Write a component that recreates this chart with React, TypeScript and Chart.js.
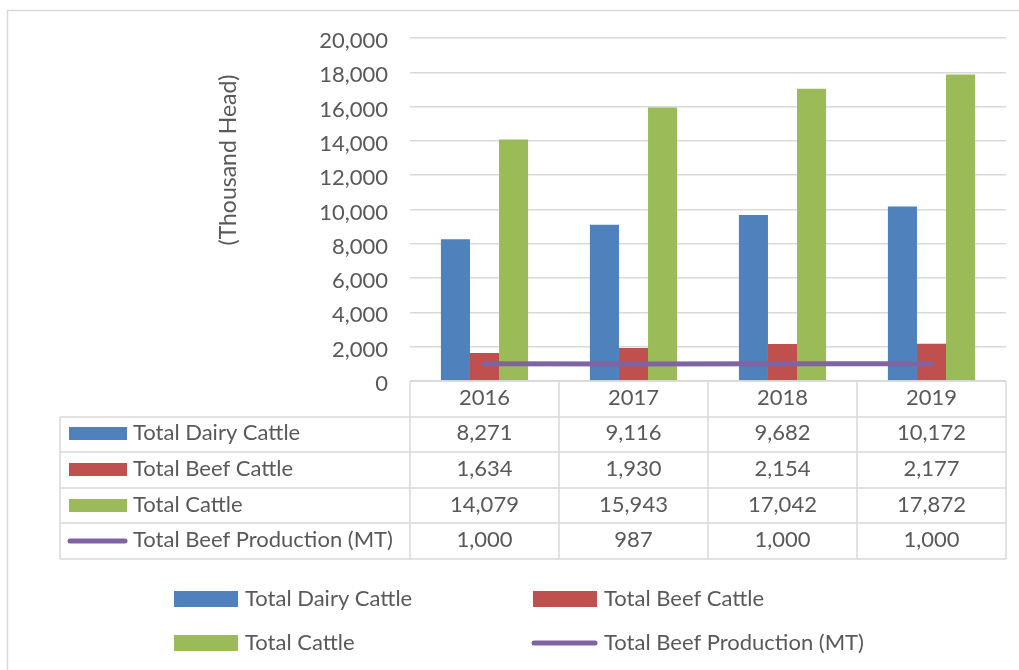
import React, { useEffect, useRef } from "react";
import { Chart, registerables } from "chart.js";

Chart.register(...registerables);

// Chart data
const years = ["2016", "2017", "2018", "2019"];
const dairyCattle = [8271, 9116, 9682, 10172];
const beefCattle = [1634, 1930, 2154, 2177];
const totalCattle = [14079, 15943, 17042, 17872];
const beefProduction = [1000, 987, 1000, 1000];
const seriesNames = [
  "Total Dairy Cattle",
  "Total Beef Cattle",
  "Total Cattle",
  "Total Beef Production (MT)",
];
const yTitle = "(Thousand Head)";

const BLUE = "#4F81BD";
const RED = "#C0504D";
const GREEN = "#9BBB59";
const PURPLE = "#8064A2";
const TEXT = "#595959";
const LINE = "#d9d9d9";
const FONT_FAMILY = "Lato, 'Noto Sans', sans-serif";
const FONT_SIZE = 22;

const fmt = (v: number) => v.toLocaleString("en-US");

// Draws the data table under the plot, the axis title, the legend and the frame
const tablePlugin = {
  id: "dataTable",
  afterDraw(chart: any) {
    const ctx = chart.ctx as CanvasRenderingContext2D;
    const area = chart.chartArea;
    const x = chart.scales.x;
    const rowH = 35.6;
    const tableLeft = 60;
    const top = area.bottom;
    const n = years.length;
    const colW = (area.right - area.left) / n;
    const colors = [BLUE, RED, GREEN, PURPLE];
    const rows = [dairyCattle, beefCattle, totalCattle, beefProduction];

    ctx.save();
    ctx.font = `${FONT_SIZE}px ${FONT_FAMILY}`;
    ctx.fillStyle = TEXT;
    ctx.textBaseline = "middle";

    // outer frame
    ctx.strokeStyle = LINE;
    ctx.lineWidth = 1.5;
    ctx.beginPath();
    ctx.moveTo(7.5, chart.height);
    ctx.lineTo(7.5, 10.5);
    ctx.lineTo(chart.width, 10.5);
    ctx.stroke();

    // table grid
    ctx.beginPath();
    ctx.moveTo(area.left, top);
    ctx.lineTo(area.right, top);
    for (let r = 1; r <= rows.length + 1; r++) {
      const yy = Math.round(top + r * rowH);
      ctx.moveTo(tableLeft, yy);
      ctx.lineTo(area.right, yy);
    }
    const bottom = Math.round(top + (rows.length + 1) * rowH);
    ctx.moveTo(tableLeft, Math.round(top + rowH));
    ctx.lineTo(tableLeft, bottom);
    for (let c = 0; c <= n; c++) {
      const xx = area.left + c * colW;
      ctx.moveTo(xx, top);
      ctx.lineTo(xx, bottom);
    }
    ctx.stroke();

    // header labels
    ctx.textAlign = "center";
    years.forEach((yr, i) => {
      ctx.fillText(yr, x.getPixelForValue(i), top + rowH / 2 - 1);
    });

    // value rows
    rows.forEach((vals, r) => {
      const cy = top + (r + 1) * rowH + rowH / 2 - 1;
      ctx.textAlign = "center";
      vals.forEach((v, i) => {
        ctx.fillText(fmt(v), x.getPixelForValue(i), cy);
      });
      // key
      const ky = Math.round(top + (r + 1) * rowH + rowH / 2);
      if (r < 3) {
        ctx.fillStyle = colors[r];
        ctx.fillRect(69, ky - 7, 58, 13);
      } else {
        ctx.strokeStyle = colors[r];
        ctx.lineWidth = 5;
        ctx.lineCap = "round";
        ctx.beginPath();
        ctx.moveTo(70, ky);
        ctx.lineTo(125, ky);
        ctx.stroke();
      }
      ctx.fillStyle = TEXT;
      ctx.textAlign = "left";
      ctx.fillText(seriesNames[r], 133, cy);
    });

    // bottom legend
    const legend = [
      { x: 174, y: 599, i: 0 },
      { x: 533, y: 599, i: 1 },
      { x: 174, y: 643, i: 2 },
      { x: 533, y: 643, i: 3 },
    ];
    legend.forEach((it) => {
      if (it.i < 3) {
        ctx.fillStyle = colors[it.i];
        ctx.fillRect(it.x, it.y - 8, 64, 16);
      } else {
        ctx.strokeStyle = colors[it.i];
        ctx.lineWidth = 5;
        ctx.lineCap = "round";
        ctx.beginPath();
        ctx.moveTo(it.x + 1, it.y);
        ctx.lineTo(it.x + 62, it.y);
        ctx.stroke();
      }
      ctx.fillStyle = TEXT;
      ctx.textAlign = "left";
      ctx.fillText(seriesNames[it.i], it.x + 71, it.y);
    });

    // rotated axis title
    ctx.save();
    ctx.font = `23px ${FONT_FAMILY}`;
    ctx.translate(229, 160);
    ctx.rotate(-Math.PI / 2);
    ctx.textAlign = "center";
    ctx.fillText(yTitle, 0, 0);
    ctx.restore();

    ctx.restore();
  },
};

export default function App() {
  const ref = useRef<HTMLCanvasElement | null>(null);

  useEffect(() => {
    if (!ref.current) return;
    const chart = new Chart(ref.current, {
      data: {
        labels: years,
        datasets: [
          {
            type: "line",
            label: seriesNames[3],
            data: beefProduction,
            borderColor: PURPLE,
            borderWidth: 5,
            borderCapStyle: "round",
            pointRadius: 0,
            order: 0,
          },
          {
            type: "bar",
            label: seriesNames[0],
            data: dairyCattle,
            backgroundColor: BLUE,
            order: 1,
          },
          {
            type: "bar",
            label: seriesNames[1],
            data: beefCattle,
            backgroundColor: RED,
            order: 1,
          },
          {
            type: "bar",
            label: seriesNames[2],
            data: totalCattle,
            backgroundColor: GREEN,
            order: 1,
          },
        ],
      } as any,
      options: {
        animation: false,
        responsive: false,
        maintainAspectRatio: false,
        datasets: {
          bar: { categoryPercentage: 0.585, barPercentage: 1 },
        } as any,
        layout: { padding: { top: 38, right: 13, bottom: 0, left: 0 } },
        plugins: {
          legend: { display: false },
          tooltip: { enabled: false },
        },
        scales: {
          x: {
            offset: true,
            grid: { display: false },
            border: { display: false },
            ticks: { display: false },
            afterFit: (s: any) => {
              s.height = 289;
            },
          },
          y: {
            min: 0,
            max: 20000,
            border: { display: false },
            grid: { color: LINE, lineWidth: 1.5, drawTicks: false },
            ticks: {
              stepSize: 2000,
              padding: 22,
              labelOffset: 3,
              color: TEXT,
              font: { family: FONT_FAMILY, size: FONT_SIZE },
              callback: (v: any) => fmt(Number(v)),
            },
            afterFit: (s: any) => {
              s.width = 410;
            },
          },
        },
      },
      plugins: [tablePlugin],
    });
    return () => chart.destroy();
  }, []);

  return (
    <div style={{ position: "fixed", left: 0, top: 0, width: 1019, height: 670, background: "#fff" }}>
      <canvas ref={ref} width={1019} height={670} />
    </div>
  );
}
